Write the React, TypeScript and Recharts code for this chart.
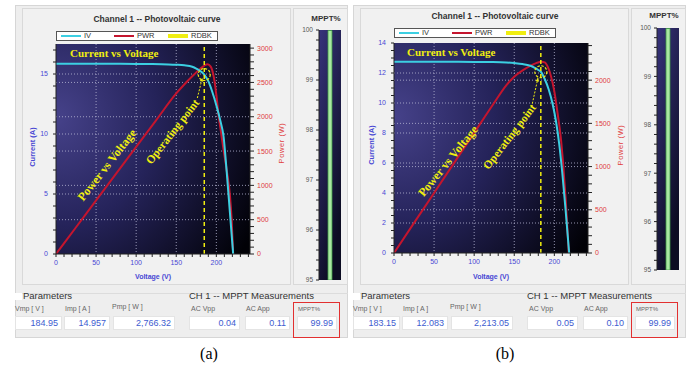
import React from 'react';
import {
  ComposedChart,
  Line,
  XAxis,
  YAxis,
  CartesianGrid,
  ReferenceLine,
  ReferenceDot,
  BarChart,
  Bar,
} from 'recharts';

const SANS = '"Liberation Sans", Arial, sans-serif';
const SERIF = '"Liberation Serif", "Times New Roman", serif';

const IV_COLOR = '#3ccfe2';
const PWR_COLOR = '#c4152e';
const YEL = '#f0ee10';
const BLUE_TXT = '#4848d4';
const RED_TXT = '#e03c3c';

// ---- panel (a) ----
const ivVoltsA = [0, 20, 40, 60, 80, 100, 120, 140, 150, 160, 170, 175, 180, 184.95, 190, 195, 200, 205, 209, 213, 217, 221];
const ivAmpsA = [15.85, 15.85, 15.85, 15.85, 15.85, 15.84, 15.83, 15.8, 15.77, 15.72, 15.6, 15.45, 15.25, 14.957, 14.4, 13.5, 12.4, 11.1, 9.8, 6.8, 3.4, 0];
const pwrVoltsA = [0, 25, 50, 75, 100, 125, 150, 160, 170, 180, 185, 189, 193, 197, 200, 203, 206, 209, 213, 217, 219, 221];
const pwrWattsA = [0, 390, 780, 1170, 1560, 1950, 2340, 2470, 2590, 2700, 2745, 2766, 2730, 2570, 2320, 2000, 1760, 1520, 1220, 850, 520, 0];
const ampTicksA = [0, 5, 10, 15];
const wattTicksA = [0, 500, 1000, 1500, 2000, 2500, 3000];
const arrowA = [{ v: 176.3, i: 13.0 }, { v: 182.5, i: 14.67 }];
const paramsA = ['184.95', '14.957', '2,766.32'];
const measA = ['0.04', '0.11', '99.99'];

// ---- panel (b) ----
const ivVoltsB = [0, 20, 40, 60, 80, 100, 120, 140, 150, 160, 170, 175, 180, 183.15, 188, 193, 198, 202, 206, 210, 214, 218.5];
const ivAmpsB = [12.75, 12.75, 12.75, 12.75, 12.75, 12.74, 12.73, 12.7, 12.66, 12.6, 12.48, 12.36, 12.2, 12.083, 11.6, 10.9, 9.9, 8.8, 7.3, 5.3, 2.9, 0];
const pwrVoltsB = [0, 25, 50, 75, 100, 125, 140, 150, 160, 170, 178, 184, 188, 192, 196, 200, 204, 208, 211, 214, 216, 218];
const pwrWattsB = [0, 348, 695, 1043, 1390, 1738, 1940, 2040, 2110, 2165, 2200, 2213, 2205, 2150, 2040, 1870, 1620, 1340, 1030, 640, 330, 0];
const ampTicksB = [0, 2, 4, 6, 8, 10, 12, 14];
const wattTicksB = [0, 500, 1000, 1500, 2000];
const arrowB = [{ v: 171.6, i: 9.73 }, { v: 179.6, i: 11.67 }];
const paramsB = ['183.15', '12.083', '2,213.05'];
const measB = ['0.05', '0.10', '99.99'];

const voltTicks = [0, 50, 100, 150, 200];
const mpptTicks = [95, 96, 97, 98, 99, 100];
const paramLabels = ['Vmp [ V ]', 'Imp [ A ]', 'Pmp [ W ]'];
const measLabels = ['AC Vpp', 'AC App', 'MPPT%'];

const steps = (from: number, to: number, step: number) => {
  const out: number[] = [];
  for (let k = 0; from + k * step <= to + 1e-9; k++) out.push(Math.round((from + k * step) * 100) / 100);
  return out;
};
const majorOnly = (majors: number[]) => (val: number) => (majors.includes(val) ? String(val) : '');

const panelA = {
  id: 'a', dx: 0, plotTop: 36, titleTop: 15, legendTop: 31, mTop: 22, mBottom: 272,
  ivVolts: ivVoltsA, ivAmps: ivAmpsA, pwrVolts: pwrVoltsA, pwrWatts: pwrWattsA,
  ampMax: 17.5, ampStep: 1, ampTicks: ampTicksA, ampGrid: [5, 10, 15],
  wattMax: 3060, wattTicks: wattTicksA, wattGrid: [500, 1000, 1500, 2000, 2500],
  vmp: 184.95, imp: 14.957, arrow: arrowA, mppt: 99.99, params: paramsA, meas: measA,
  cv: [70, 48], pvText: [106.5, 165, -52], opText: [172.5, 131.5, -52],
  curTitle: [33, 147], pwrTitle: [282, 143], voltTitle: [153, 276], caption: ['(a)', 209],
};

const panelB = {
  id: 'b', dx: 338, plotTop: 35, titleTop: 12, legendTop: 28, mTop: 20, mBottom: 262,
  ivVolts: ivVoltsB, ivAmps: ivAmpsB, pwrVolts: pwrVoltsB, pwrWatts: pwrWattsB,
  ampMax: 14, ampStep: 0.5, ampTicks: ampTicksB, ampGrid: [2, 4, 6, 8, 10, 12],
  wattMax: 2430, wattTicks: wattTicksB, wattGrid: [500, 1000, 1500, 2000],
  vmp: 183.15, imp: 12.083, arrow: arrowB, mppt: 99.99, params: paramsB, meas: measB,
  cv: [407, 47], pvText: [447.5, 160.5, -51], opText: [510, 137, -52.5],
  curTitle: [372, 145], pwrTitle: [621, 145], voltTitle: [491, 276], caption: ['(b)', 505],
};

type PanelCfg = typeof panelA;

const ArrowShape = (props: any) => {
  const { x1, y1, x2, y2 } = props;
  const ang = Math.atan2(y2 - y1, x2 - x1);
  const len = 4;
  const a1 = ang + Math.PI * 0.85;
  const a2 = ang - Math.PI * 0.85;
  return (
    <g>
      <line x1={x1} y1={y1} x2={x2} y2={y2} stroke={YEL} strokeWidth={1} strokeDasharray="2 1.5" />
      <polygon
        points={`${x2},${y2} ${x2 + len * Math.cos(a1)},${y2 + len * Math.sin(a1)} ${x2 + len * Math.cos(a2)},${y2 + len * Math.sin(a2)}`}
        fill={YEL}
      />
    </g>
  );
};

function PvChart({ p }: { p: PanelCfg }) {
  const W = 269;
  const H = 277;
  const iv = p.ivVolts.map((v, k) => ({ v, i: p.ivAmps[k] }));
  const pwr = p.pwrVolts.map((v, k) => ({ v, w: p.pwrWatts[k] }));
  const vMinor = steps(0, 240, 10);
  const aMinor = steps(0, Math.floor(p.ampMax / p.ampStep) * p.ampStep, p.ampStep);
  const wMinor = steps(0, Math.floor(p.wattMax / 100) * 100, 100);
  const gridStroke = { stroke: '#b8b8d4', strokeOpacity: 0.8, strokeDasharray: '1 2' };

  return (
    <ComposedChart
      width={W}
      height={H}
      margin={{ top: p.plotTop, right: 10, bottom: H - p.plotTop - 210 - 20, left: 10 }}
    >
      <defs>
        <radialGradient id={`pvbg-${p.id}`} cx="0" cy="0.35" r="1.15">
          <stop offset="0%" stopColor="#46428a" />
          <stop offset="45%" stopColor="#25235a" />
          <stop offset="100%" stopColor="#010106" />
        </radialGradient>
      </defs>
      <CartesianGrid
        xAxisId="v"
        yAxisId="i"
        fill={`url(#pvbg-${p.id})`}
        fillOpacity={1}
        {...gridStroke}
        verticalValues={[50, 100, 150, 200]}
        horizontalValues={p.ampGrid}
      />
      <CartesianGrid xAxisId="v" yAxisId="w" vertical={false} horizontalValues={p.wattGrid} {...gridStroke} />
      <XAxis
        xAxisId="v"
        dataKey="v"
        type="number"
        domain={[0, 242]}
        allowDataOverflow
        ticks={vMinor}
        interval={0}
        tickFormatter={majorOnly(voltTicks)}
        height={20}
        tickSize={3}
        tickMargin={3}
        stroke="#222"
        tick={{ fill: BLUE_TXT, fontSize: 7, fontFamily: SANS }}
      />
      <YAxis
        yAxisId="i"
        type="number"
        domain={[0, p.ampMax]}
        allowDataOverflow
        ticks={aMinor}
        interval={0}
        tickFormatter={majorOnly(p.ampTicks)}
        width={24}
        tickSize={3}
        tickMargin={5}
        stroke="#222"
        tick={{ fill: BLUE_TXT, fontSize: 7, fontFamily: SANS }}
      />
      <YAxis
        yAxisId="w"
        orientation="right"
        type="number"
        domain={[0, p.wattMax]}
        allowDataOverflow
        ticks={wMinor}
        interval={0}
        tickFormatter={majorOnly(p.wattTicks)}
        width={31}
        tickSize={4}
        tickMargin={3}
        stroke="#222"
        tick={{ fill: RED_TXT, fontSize: 7, fontFamily: SANS, textAnchor: 'start' }}
      />
      <Line
        xAxisId="v"
        yAxisId="w"
        data={pwr}
        dataKey="w"
        type="monotone"
        stroke={PWR_COLOR}
        strokeWidth={2}
        dot={false}
        isAnimationActive={false}
      />
      <Line
        xAxisId="v"
        yAxisId="i"
        data={iv}
        dataKey="i"
        type="monotone"
        stroke={IV_COLOR}
        strokeWidth={2}
        dot={false}
        isAnimationActive={false}
      />
      <ReferenceLine xAxisId="v" yAxisId="i" x={p.vmp} stroke={YEL} strokeWidth={1.5} strokeDasharray="4 3" />
      <ReferenceDot
        xAxisId="v"
        yAxisId="i"
        x={p.vmp}
        y={p.imp}
        r={6}
        fill="none"
        stroke={YEL}
        strokeWidth={1.2}
        strokeDasharray="2.5 1.5"
      />
      <ReferenceLine
        xAxisId="v"
        yAxisId="i"
        segment={[
          { x: p.arrow[0].v, y: p.arrow[0].i },
          { x: p.arrow[1].v, y: p.arrow[1].i },
        ]}
        stroke={YEL}
        shape={ArrowShape}
      />
    </ComposedChart>
  );
}

function MpptChart({ p }: { p: PanelCfg }) {
  const H = 277;
  const minor = steps(95, 100, 0.2);
  return (
    <BarChart
      width={55}
      height={H}
      data={[{ ch: 'CH 1', mppt: p.mppt }]}
      margin={{ top: p.mTop, right: 7, bottom: H - p.mBottom, left: 2 }}
    >
      <defs>
        <linearGradient id={`mbg-${p.id}`} x1="0" y1="0" x2="0.5" y2="1">
          <stop offset="0%" stopColor="#37337c" />
          <stop offset="100%" stopColor="#0c0c22" />
        </linearGradient>
      </defs>
      <CartesianGrid fill={`url(#mbg-${p.id})`} fillOpacity={1} horizontal={false} vertical={false} />
      <XAxis dataKey="ch" hide />
      <YAxis
        type="number"
        domain={[95, 100]}
        allowDataOverflow
        ticks={minor}
        interval={0}
        tickFormatter={majorOnly(mpptTicks)}
        width={24}
        tickSize={3}
        tickMargin={3}
        stroke="#222"
        tick={{ fill: '#555', fontSize: 6.5, fontFamily: SANS }}
      />
      <Bar dataKey="mppt" barSize={4} fill="#a9e7a2" stroke="#3f9a45" strokeWidth={0.8} isAnimationActive={false} />
    </BarChart>
  );
}

const Rot = ({ x, y, a, style, children }: any) => (
  <div
    style={{
      position: 'absolute',
      left: x,
      top: y,
      transform: `translate(-50%, -50%) rotate(${a}deg)`,
      whiteSpace: 'nowrap',
      lineHeight: 1,
      ...style,
    }}
  >
    {children}
  </div>
);

function LegendBox({ left, top }: { left: number; top: number }) {
  const items: [string, string, number, number][] = [
    ['IV', IV_COLOR, 2, 4],
    ['PWR', PWR_COLOR, 2, 57],
    ['RDBK', YEL, 4, 111],
  ];
  return (
    <div
      style={{
        position: 'absolute',
        left,
        top,
        width: 162,
        height: 10,
        background: '#fff',
        border: '1px solid #555',
        boxSizing: 'border-box',
      }}
    >
      {items.map(([name, color, w, off]) => (
        <React.Fragment key={name}>
          <div style={{ position: 'absolute', left: off, top: (8 - w) / 2, width: 20, height: w, background: color }} />
          <div style={{ position: 'absolute', left: off + 23, top: 0, fontSize: 7.5, lineHeight: '8px', color: '#333' }}>
            {name}
          </div>
        </React.Fragment>
      ))}
    </div>
  );
}

const boxDefs = [
  [15, 47],
  [64, 46],
  [113, 62],
  [189, 51],
  [245, 45],
  [297, 40],
];
const labelDefs = [
  [15, 305],
  [65, 305],
  [112, 303],
  [191, 305],
  [246, 305],
  [298, 306],
];

function Panel({ p }: { p: PanelCfg }) {
  const dx = p.dx;
  const frame = (left: number, top: number, width: number, height: number, bg: string, border: string) => ({
    position: 'absolute' as const,
    left,
    top,
    width,
    height,
    background: bg,
    border: `1px solid ${border}`,
    boxSizing: 'border-box' as const,
  });
  const values = [...p.params, ...p.meas];
  const labels = [...paramLabels, ...measLabels];

  return (
    <>
      <div style={frame(dx + 15, 5, 333, 333, '#eeeeee', '#d6d6d6')} />
      <div style={frame(dx + 22, 8, 269, 277, '#f1f1f1', '#d9d9d9')} />
      <div style={frame(dx + 293, 8, 55, 277, '#f1f1f1', '#d9d9d9')} />
      <div style={{ position: 'absolute', left: dx + 15, top: 293, width: 333, height: 1, background: '#dcdcdc' }} />

      <div style={{ position: 'absolute', left: dx + 22, top: 8 }}>
        <PvChart p={p} />
      </div>
      <div style={{ position: 'absolute', left: dx + 293, top: 8 }}>
        <MpptChart p={p} />
      </div>

      <div
        style={{
          position: 'absolute',
          left: dx + 157,
          top: p.titleTop,
          transform: 'translateX(-50%)',
          whiteSpace: 'nowrap',
          fontSize: 8.5,
          fontWeight: 'bold',
          color: '#333',
          lineHeight: 1,
        }}
      >
        Channel 1 -- Photovoltaic curve
      </div>
      <div
        style={{
          position: 'absolute',
          left: dx + 326,
          top: p.titleTop,
          transform: 'translateX(-50%)',
          fontSize: 8,
          fontWeight: 'bold',
          color: '#333',
          lineHeight: 1,
        }}
      >
        MPPT%
      </div>
      <LegendBox left={dx + 56} top={p.legendTop} />

      <div
        style={{
          position: 'absolute',
          left: p.cv[0],
          top: p.cv[1],
          fontFamily: SERIF,
          fontWeight: 'bold',
          fontSize: 11,
          color: YEL,
          whiteSpace: 'nowrap',
          lineHeight: 1,
        }}
      >
        Current vs Voltage
      </div>
      <Rot x={p.pvText[0]} y={p.pvText[1]} a={p.pvText[2]} style={{ fontFamily: SERIF, fontWeight: 'bold', fontSize: 12, color: YEL }}>
        Power vs Voltage
      </Rot>
      <Rot x={p.opText[0]} y={p.opText[1]} a={p.opText[2]} style={{ fontFamily: SERIF, fontWeight: 'bold', fontSize: 11.5, color: YEL }}>
        Operating point
      </Rot>

      <Rot x={p.curTitle[0]} y={p.curTitle[1]} a={-90} style={{ fontSize: 7.5, fontWeight: 'bold', color: BLUE_TXT }}>
        Current (A)
      </Rot>
      <Rot x={p.pwrTitle[0]} y={p.pwrTitle[1]} a={-90} style={{ fontSize: 7.5, color: RED_TXT, letterSpacing: 0.6 }}>
        Power (W)
      </Rot>
      <Rot x={p.voltTitle[0]} y={p.voltTitle[1]} a={0} style={{ fontSize: 7, fontWeight: 'bold', color: BLUE_TXT }}>
        Voltage (V)
      </Rot>

      <div style={{ position: 'absolute', left: dx + 15, top: 293, width: 7, height: 7, background: '#fff' }} />
      <div style={{ position: 'absolute', left: dx + 23, top: 291, fontSize: 9.5, color: '#333', lineHeight: 1 }}>Parameters</div>
      <div style={{ position: 'absolute', left: dx + 189, top: 291, fontSize: 9.5, color: '#333', lineHeight: 1, whiteSpace: 'nowrap' }}>
        CH 1 -- MPPT Measurements
      </div>
      <div
        style={{
          position: 'absolute',
          left: dx + 293,
          top: 302,
          width: 47,
          height: 36,
          border: '1.5px solid #e23030',
          boxSizing: 'border-box',
        }}
      />
      {labels.map((t, k) => (
        <div
          key={t}
          style={{
            position: 'absolute',
            left: dx + labelDefs[k][0],
            top: labelDefs[k][1],
            fontSize: k === 5 ? 6 : 7,
            color: '#666',
            lineHeight: 1,
            whiteSpace: 'nowrap',
          }}
        >
          {t}
        </div>
      ))}
      {values.map((t, k) => (
        <div
          key={k}
          style={{
            position: 'absolute',
            left: dx + boxDefs[k][0],
            top: 316,
            width: boxDefs[k][1],
            height: 14,
            background: '#fff',
            border: '1px solid #e4e4e4',
            boxSizing: 'border-box',
            textAlign: 'right',
            paddingRight: 3,
            fontSize: 9,
            lineHeight: '12px',
            color: '#3d5cd0',
          }}
        >
          {t}
        </div>
      ))}

      <div
        style={{
          position: 'absolute',
          left: p.caption[1] as number,
          top: 346,
          transform: 'translateX(-50%)',
          fontFamily: SERIF,
          fontSize: 16,
          color: '#000',
          lineHeight: 1,
        }}
      >
        {p.caption[0]}
      </div>
    </>
  );
}

export default function App() {
  return (
    <div
      style={{
        position: 'absolute',
        left: 0,
        top: 0,
        width: 686,
        height: 366,
        background: '#fff',
        overflow: 'hidden',
        fontFamily: SANS,
      }}
    >
      <Panel p={panelA} />
      <Panel p={panelB} />
    </div>
  );
}
